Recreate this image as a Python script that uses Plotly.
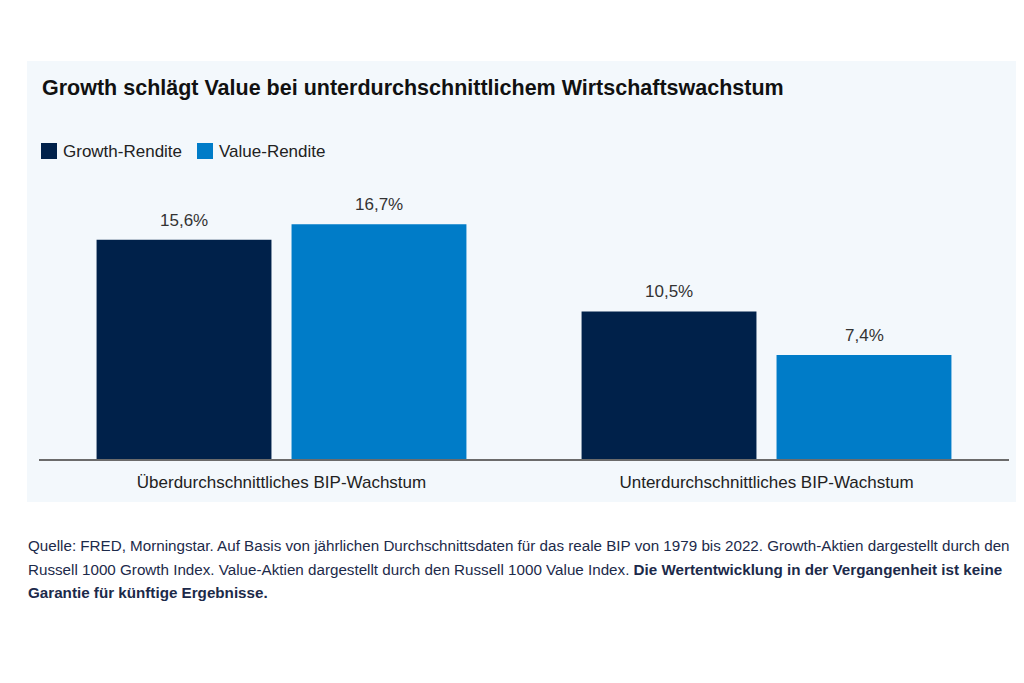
import plotly.graph_objects as go

categories = ["Überdurchschnittliches BIP-Wachstum", "Unterdurchschnittliches BIP-Wachstum"]
growth = [15.6, 10.5]
value = [16.7, 7.4]
series_names = ["Growth-Rendite", "Value-Rendite"]
colors = ["#00214a", "#007cc8"]

title = "Growth schlägt Value bei unterdurchschnittlichem Wirtschaftswachstum"
footnote_lines = [
    "Quelle: FRED, Morningstar. Auf Basis von jährlichen Durchschnittsdaten für das reale BIP von 1979 bis 2022. Growth-Aktien dargestellt durch den",
    "Russell 1000 Growth Index. Value-Aktien dargestellt durch den Russell 1000 Value Index. <b>Die Wertentwicklung in der Vergangenheit ist keine</b>",
    "<b>Garantie für künftige Ergebnisse.</b>",
]

OFF = 8  # page body margin
W, H = 1016, 675
ml, pw = 31, 970
mr = W - ml - pw
mt, ph = 170, 281
mb = H - mt - ph

def px_x(p):
    return (p - OFF - ml) / pw

def px_y(p):
    return (H - mb - (p - OFF)) / ph

def fmt(v):
    return f"{v:.1f}".replace(".", ",") + "%"

fig = go.Figure()
for name, vals, col in zip(series_names, [growth, value], colors):
    fig.add_trace(go.Bar(
        x=categories, y=vals, name=name, marker_color=col, marker_line_width=0,
        showlegend=False,
    ))

# value labels above bars
for vals, shift in zip([growth, value], [-97.5, 97.5]):
    for c, v in zip(categories, vals):
        fig.add_annotation(x=c, y=v, xref="x", yref="y", text=fmt(v), showarrow=False,
                           xshift=shift, yanchor="bottom", yshift=8,
                           font=dict(size=17, color="#333333"))

fig.update_layout(
    width=W, height=H,
    margin=dict(l=ml, r=mr, t=mt, b=mb),
    paper_bgcolor="white", plot_bgcolor="#f3f8fc",
    font=dict(family="Liberation Sans, Arial, sans-serif", color="#222222"),
    barmode="group", bargap=0.196, bargroupgap=0.103,
    showlegend=False,
    xaxis=dict(showline=True, linecolor="#6b6b6b", linewidth=2, ticks="outside",
               ticklen=7, tickcolor="rgba(0,0,0,0)", tickfont=dict(size=17, color="#222222"),
               showgrid=False, zeroline=False),
    yaxis=dict(range=[0, 20], visible=False, showgrid=False, zeroline=False),
)

# light panel background
fig.add_shape(type="rect", xref="paper", yref="paper",
              x0=px_x(27), x1=px_x(1020), y0=px_y(502), y1=px_y(61),
              fillcolor="#f3f8fc", line_width=0, layer="below")

fig.add_annotation(text=f"<b>{title}</b>", xref="paper", yref="paper",
                   x=px_x(40), y=px_y(88), xanchor="left", yanchor="middle",
                   showarrow=False, font=dict(size=21.5, color="#111111"))

# legend
leg_sq = [(41, 57), (197, 213)]
for (x0, x1), name, col in zip(leg_sq, series_names, colors):
    fig.add_shape(type="rect", xref="paper", yref="paper",
                  x0=px_x(x0), x1=px_x(x1), y0=px_y(159), y1=px_y(143),
                  fillcolor=col, line_width=0)
    fig.add_annotation(text=name, xref="paper", yref="paper",
                       x=px_x(x1 + 4), y=px_y(151), xanchor="left", yanchor="middle",
                       showarrow=False, font=dict(size=17, color="#222222"))

for line, yc in zip(footnote_lines, [545, 569, 592]):
    fig.add_annotation(text=line, xref="paper", yref="paper",
                       x=px_x(26), y=px_y(yc), xanchor="left", yanchor="middle", align="left",
                       showarrow=False,
                       font=dict(size=15.2, color="#1c2a4a"))

fig.write_html("out.html")
